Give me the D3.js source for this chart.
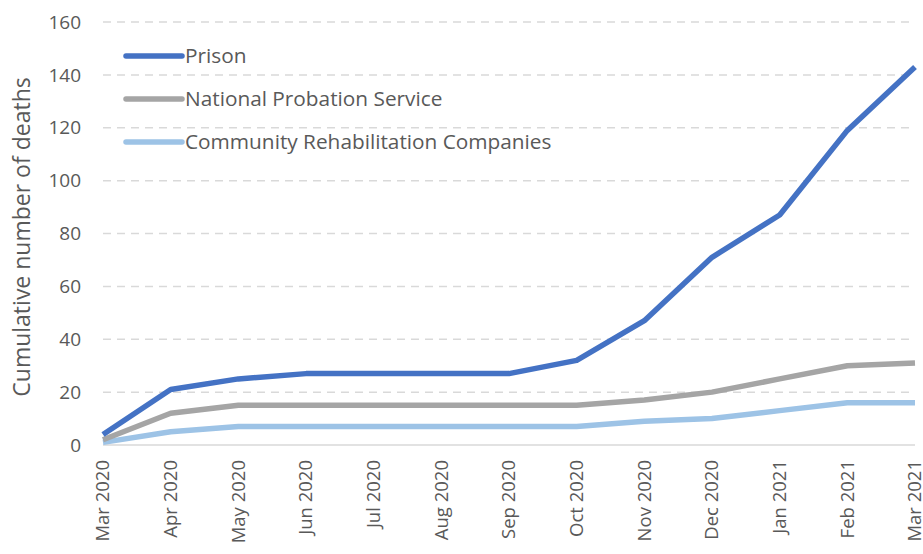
<!DOCTYPE html>
<html>
<head>
<meta charset="utf-8">
<script src="https://cdn.jsdelivr.net/npm/d3@7"></script>
<style>
  body { margin: 0; background: #fff; }
  text { font-family: "Open Sans", sans-serif; fill: #595959; }
</style>
</head>
<body>
<svg width="923" height="554"></svg>
<script>
var months = ["Mar 2020", "Apr 2020", "May 2020", "Jun 2020", "Jul 2020", "Aug 2020",
    "Sep 2020", "Oct 2020", "Nov 2020", "Dec 2020", "Jan 2021", "Feb 2021", "Mar 2021"];
var prison = [4, 21, 25, 27, 27, 27, 27, 32, 47, 71, 87, 119, 143];
var probation = [2, 12, 15, 15, 15, 15, 15, 15, 17, 20, 25, 30, 31];
var crc = [1, 5, 7, 7, 7, 7, 7, 7, 9, 10, 13, 16, 16];
var yTicks = [0, 20, 40, 60, 80, 100, 120, 140, 160];

(function () {
    'use strict';

    var series = [
        { name: "Prison", values: prison, color: "#4472c4" },
        { name: "National Probation Service", values: probation, color: "#a5a5a5" },
        { name: "Community Rehabilitation Companies", values: crc, color: "#9dc3e6" }
    ];

    var svg = d3.select("svg");
    var plotLeft = 103, plotRight = 915, plotTop = 22, plotBottom = 445;

    var x = d3.scalePoint().domain(months).range([plotLeft, plotRight]);
    var y = d3.scaleLinear().domain([0, 160]).range([plotBottom, plotTop]);

    // dashed gridlines
    svg.append("g").selectAll("line")
        .data(yTicks.filter(function (d) { return d > 0; }))
        .enter().append("line")
        .attr("x1", plotLeft).attr("x2", plotRight)
        .attr("y1", function (d) { return y(d); })
        .attr("y2", function (d) { return y(d); })
        .attr("stroke", "#d9d9d9")
        .attr("stroke-width", 1.5)
        .attr("stroke-dasharray", "8,6");

    svg.append("line")
        .attr("x1", plotLeft).attr("x2", plotRight)
        .attr("y1", y(0)).attr("y2", y(0))
        .attr("stroke", "#d9d9d9")
        .attr("stroke-width", 1.5);

    svg.append("g").selectAll("text")
        .data(yTicks)
        .enter().append("text")
        .attr("x", 81)
        .attr("y", function (d) { return y(d); })
        .attr("dy", "0.35em")
        .attr("text-anchor", "end")
        .style("font-size", "19px")
        .text(function (d) { return d; });

    svg.append("g").selectAll("text")
        .data(months)
        .enter().append("text")
        .attr("transform", function (d) { return "translate(" + x(d) + ",460) rotate(-90)"; })
        .attr("dy", "0.35em")
        .attr("text-anchor", "end")
        .style("font-size", "18.5px")
        .text(function (d) { return d; });

    svg.append("text")
        .attr("transform", "translate(22,237) rotate(-90)")
        .attr("text-anchor", "middle")
        .attr("dy", "0.35em")
        .style("font-size", "23px")
        .text("Cumulative number of deaths");

    var line = d3.line()
        .x(function (d, i) { return x(months[i]); })
        .y(function (d) { return y(d); });

    svg.append("g").selectAll("path")
        .data(series.slice().reverse())
        .enter().append("path")
        .attr("d", function (d) { return line(d.values); })
        .attr("fill", "none")
        .attr("stroke", function (d) { return d.color; })
        .attr("stroke-width", 5.5)
        .attr("stroke-linejoin", "round");

    // legend
    var legend = svg.append("g").selectAll("g")
        .data(series)
        .enter().append("g")
        .attr("transform", function (d, i) { return "translate(0," + (56 + i * 43) + ")"; });

    legend.append("line")
        .attr("x1", 126).attr("x2", 182)
        .attr("stroke", function (d) { return d.color; })
        .attr("stroke-width", 5.5)
        .attr("stroke-linecap", "round");

    legend.append("text")
        .attr("x", 185)
        .attr("dy", "0.35em")
        .style("font-size", "20.8px")
        .text(function (d) { return d.name; });
}());
</script>
</body>
</html>
